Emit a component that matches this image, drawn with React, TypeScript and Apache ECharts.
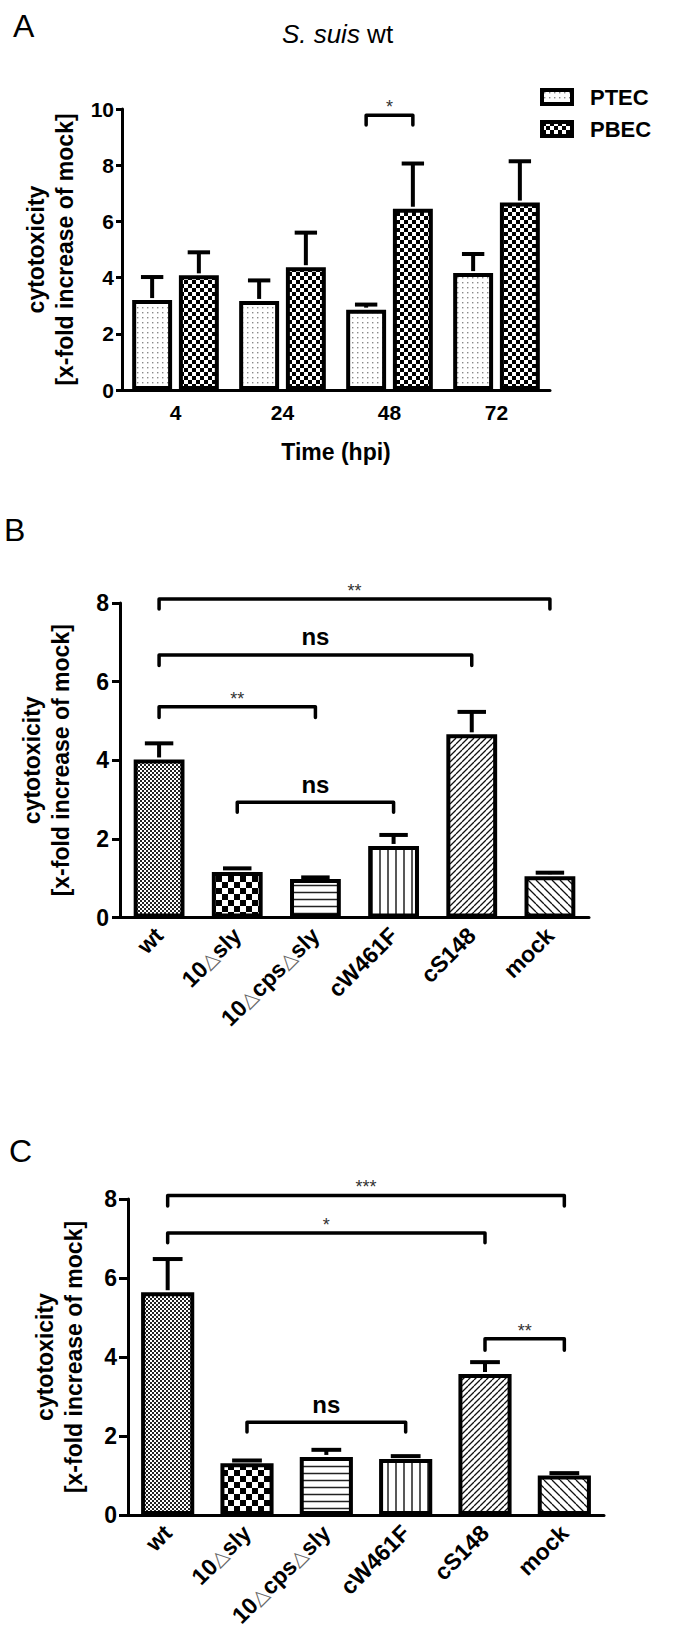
import React, { useEffect, useRef } from 'react';
import * as echarts from 'echarts';

// ---------- data ----------
const hoursA = ['4', '24', '48', '72'];
const seriesNamesA = ['PTEC', 'PBEC'];
const ptecMean = [3.2, 3.17, 2.86, 4.16];
const ptecSem = [0.82, 0.73, 0.18, 0.68];
const pbecMean = [4.08, 4.37, 6.45, 6.67];
const pbecSem = [0.82, 1.23, 1.61, 1.47];
// [fromCategory, fromBar, toCategory, toBar, bracketY, legBottomY]
const sigA = [[2, 0, 2, 1, 9.78, 9.43]];
const sigLabelsA = ['*'];

const strains = ['wt', '10△sly', '10△cps△sly', 'cW461F', 'cS148', 'mock'];
const meanB = [4.02, 1.16, 0.98, 1.82, 4.66, 1.05];
const semB = [0.41, 0.09, 0.04, 0.28, 0.57, 0.09];
const sigB = [
  [0, 0, 5, 0, 8.1, 7.85],
  [0, 0, 4, 0, 6.68, 6.41],
  [0, 0, 2, 0, 5.36, 5.09],
  [1, 0, 3, 0, 2.93, 2.68],
];
const sigLabelsB = ['**', 'ns', '**', 'ns'];

const meanC = [5.64, 1.31, 1.47, 1.42, 3.57, 1.0];
const semC = [0.84, 0.07, 0.18, 0.07, 0.3, 0.06];
const sigC = [
  [0, 0, 5, 0, 8.09, 7.82],
  [0, 0, 4, 0, 7.14, 6.89],
  [4, 0, 5, 0, 4.46, 4.17],
  [1, 0, 3, 0, 2.35, 2.1],
];
const sigLabelsC = ['***', '*', '**', 'ns'];

const yMaxA = 10;
const yMaxBC = 8;
const yInterval = 2;

const yName = 'cytotoxicity\n[x-fold increase of mock]';

// ---------- styling helpers ----------
const FONT = '"Liberation Sans", Arial, Helvetica, sans-serif';

function makeTile(w: number, h: number, draw: (ctx: CanvasRenderingContext2D) => void) {
  const c = document.createElement('canvas');
  c.width = w;
  c.height = h;
  const ctx = c.getContext('2d') as CanvasRenderingContext2D;
  ctx.fillStyle = '#fff';
  ctx.fillRect(0, 0, w, h);
  draw(ctx);
  return { image: c.toDataURL(), repeat: 'repeat', imageWidth: w, imageHeight: h } as any;
}
const dots = () =>
  makeTile(5, 5, (ctx) => {
    ctx.fillStyle = '#8a8a8a';
    ctx.fillRect(2, 2, 1.4, 1.4);
  });
const checker = (cell: number, color: string) =>
  makeTile(cell * 2, cell * 2, (ctx) => {
    ctx.fillStyle = color;
    ctx.fillRect(0, 0, cell, cell);
    ctx.fillRect(cell, cell, cell, cell);
  });
const hLines = (p: number) =>
  makeTile(p, p, (ctx) => {
    ctx.fillStyle = '#222';
    ctx.fillRect(0, p / 2 - 0.75, p, 1.5);
  });
const vLines = (p: number) =>
  makeTile(p, p, (ctx) => {
    ctx.fillStyle = '#222';
    ctx.fillRect(p / 2 - 0.75, 0, 1.5, p);
  });
const diag = (p: number, up: boolean) =>
  makeTile(p, p, (ctx) => {
    ctx.strokeStyle = '#111';
    ctx.lineWidth = 1.3;
    ctx.beginPath();
    for (const o of [-p, 0, p]) {
      if (up) {
        ctx.moveTo(o, p);
        ctx.lineTo(o + p, 0);
      } else {
        ctx.moveTo(o, 0);
        ctx.lineTo(o + p, p);
      }
    }
    ctx.stroke();
  });

function barLayout(band: number, n: number, gapCat: number, gapBar: number, k: number) {
  const bw = (band * (1 - gapCat)) / (n + (n - 1) * gapBar);
  const total = n * bw + (n - 1) * gapBar * bw;
  return { off: -total / 2 + bw / 2 + k * bw * (1 + gapBar), bw };
}

function errRender(n: number, k: number, gapCat: number, gapBar: number) {
  return (params: any, api: any) => {
    const cat = api.value(0);
    const m = api.value(1);
    const e = api.value(2);
    const base = api.coord([cat, m]);
    const top = api.coord([cat, m + e]);
    const band = api.size([1, 0])[0];
    const { off, bw } = barLayout(band, n, gapCat, gapBar, k);
    const x = base[0] + off;
    const cap = bw * 0.56;
    const st = { stroke: '#000', lineWidth: 4, fill: 'none' };
    return {
      type: 'group',
      children: [
        { type: 'line', shape: { x1: x, y1: base[1] - 2, x2: x, y2: top[1] }, style: st },
        { type: 'line', shape: { x1: x - cap / 2, y1: top[1], x2: x + cap / 2, y2: top[1] }, style: st },
      ],
    };
  };
}

function bracketRender(labels: string[], n: number, gapCat: number, gapBar: number) {
  return (params: any, api: any) => {
    const band = api.size([1, 0])[0];
    const p1 = api.coord([api.value(0), api.value(4)]);
    const p2 = api.coord([api.value(2), api.value(4)]);
    const leg = api.coord([api.value(0), api.value(5)])[1];
    const x1 = p1[0] + barLayout(band, n, gapCat, gapBar, api.value(1)).off;
    const x2 = p2[0] + barLayout(band, n, gapCat, gapBar, api.value(3)).off;
    const y = p1[1];
    const label = labels[params.dataIndex];
    const isNs = label === 'ns';
    return {
      type: 'group',
      children: [
        {
          type: 'polyline',
          shape: { points: [[x1, leg], [x1, y], [x2, y], [x2, leg]] },
          style: { stroke: '#000', lineWidth: 3.5, fill: 'none', lineJoin: 'round', lineCap: 'round' },
        },
        {
          type: 'text',
          x: (x1 + x2) / 2,
          y: y - (isNs ? 18 : 8),
          style: {
            text: label,
            fill: isNs ? '#000' : '#333',
            fontSize: isNs ? 24 : 18,
            fontWeight: isNs ? 'bold' : 'normal',
            fontFamily: FONT,
            align: 'center',
            verticalAlign: 'middle',
            textAlign: 'center',
            textVerticalAlign: 'middle',
          },
        },
      ],
    };
  };
}

const axisLineStyle = { color: '#000', width: 3 };

function yAxisDef(grid: number, max: number, nameGap: number, fontSize: number, margin: number, tickLen: number) {
  return {
    gridIndex: grid,
    type: 'value',
    min: 0,
    max,
    interval: yInterval,
    splitLine: { show: false },
    axisLine: { show: true, lineStyle: axisLineStyle },
    axisTick: { show: true, length: tickLen, lineStyle: axisLineStyle },
    axisLabel: { color: '#000', fontSize, fontWeight: 'bold', fontFamily: FONT, margin },
    name: yName,
    nameLocation: 'middle',
    nameRotate: 90,
    nameGap,
    nameTextStyle: { color: '#000', fontSize: 23, fontWeight: 'bold', fontFamily: FONT, lineHeight: 29 },
  };
}

function strainAxis(grid: number) {
  return {
    gridIndex: grid,
    type: 'category',
    data: strains,
    axisLine: { lineStyle: axisLineStyle },
    axisTick: { alignWithLabel: true, length: 9, lineStyle: axisLineStyle },
    axisLabel: {
      color: '#000',
      fontSize: 23,
      fontWeight: 'bold',
      fontFamily: FONT,
      margin: 14,
      rotate: 45,
      interval: 0,
      formatter: (v: string) => v.split('△').join('{d|△}'),
      rich: {
        d: { fontSize: 20, fontWeight: 'normal', color: '#666', fontFamily: '"DejaVu Sans", sans-serif' },
      },
    },
  };
}

export default function App() {
  const ref = useRef<HTMLDivElement>(null);
  useEffect(() => {
    document.body.style.margin = '0';
    if (!ref.current) return;
    const chart = echarts.init(ref.current, undefined, { renderer: 'svg' });

    const ptecPat = dots();
    const pbecPat = checker(4, '#000');
    const patBC = [checker(2, '#222'), checker(6, '#000'), hLines(7), vLines(8), diag(6, true), diag(8, false)];

    const gapA = 0.19;
    const barGapA = 0.17;
    const gapB = 0.35;
    const gapC = 0.33;

    const option: any = {
      animation: false,
      backgroundColor: '#fff',
      title: {
        text: '{i|S. suis} wt',
        left: 'center',
        top: 21,
        padding: 0,
        textStyle: {
          fontSize: 26,
          fontWeight: 'normal',
          color: '#000',
          fontFamily: FONT,
          rich: { i: { fontSize: 26, fontStyle: 'italic', color: '#000', fontFamily: FONT } },
        },
      },
      graphic: [
        { type: 'text', x: 13, y: 26, style: { text: 'A', fill: '#000', font: `32px ${FONT}`, textVerticalAlign: 'middle' } },
        { type: 'text', x: 4, y: 530, style: { text: 'B', fill: '#000', font: `32px ${FONT}`, textVerticalAlign: 'middle' } },
        { type: 'text', x: 9, y: 1151, style: { text: 'C', fill: '#000', font: `32px ${FONT}`, textVerticalAlign: 'middle' } },
      ],
      legend: {
        data: seriesNamesA,
        orient: 'vertical',
        left: 540,
        top: 86,
        padding: 0,
        itemWidth: 30,
        itemHeight: 14,
        itemGap: 10,
        icon: 'rect',
        selectedMode: false,
        itemStyle: { borderColor: '#000', borderWidth: 4 },
        formatter: '{t|{name}}',
        textStyle: {
          fontSize: 22,
          fontWeight: 'bold',
          color: '#000',
          fontFamily: FONT,
          rich: { t: { fontSize: 22, fontWeight: 'bold', color: '#000', fontFamily: FONT, padding: [0, 0, 0, 13] } },
        },
      },
      grid: [
        { left: 122, top: 109, width: 428, height: 281 },
        { left: 120, top: 603, width: 469, height: 314.5 },
        { left: 128, top: 1199, width: 476, height: 316 },
      ],
      xAxis: [
        {
          gridIndex: 0,
          type: 'category',
          data: hoursA,
          axisLine: { lineStyle: axisLineStyle },
          axisTick: { alignWithLabel: true, length: 8, lineStyle: axisLineStyle },
          axisLabel: { color: '#000', fontSize: 21, fontWeight: 'bold', fontFamily: FONT, margin: 12 },
          name: 'Time (hpi)',
          nameLocation: 'middle',
          nameGap: 50,
          nameTextStyle: { color: '#000', fontSize: 23, fontWeight: 'bold', fontFamily: FONT },
        },
        strainAxis(1),
        strainAxis(2),
      ],
      yAxis: [
        yAxisDef(0, yMaxA, 33.5, 21, 8, 6),
        yAxisDef(1, yMaxBC, 44.5, 23, 11, 8),
        yAxisDef(2, yMaxBC, 39.5, 23, 11, 9),
      ],
      series: [
        {
          name: 'PTEC', type: 'bar', xAxisIndex: 0, yAxisIndex: 0, data: ptecMean,
          barCategoryGap: `${gapA * 100}%`, barGap: `${barGapA * 100}%`, z: 2,
          itemStyle: { color: ptecPat, borderColor: '#000', borderWidth: 4 },
        },
        {
          name: 'PBEC', type: 'bar', xAxisIndex: 0, yAxisIndex: 0, data: pbecMean,
          barCategoryGap: `${gapA * 100}%`, barGap: `${barGapA * 100}%`, z: 2,
          itemStyle: { color: pbecPat, borderColor: '#000', borderWidth: 4 },
        },
        {
          name: 'errPTEC', type: 'custom', xAxisIndex: 0, yAxisIndex: 0, z: 3, clip: false,
          encode: { x: 0, y: 1 },
          data: ptecMean.map((m, i) => [i, m, ptecSem[i]]),
          renderItem: errRender(2, 0, gapA, barGapA),
        },
        {
          name: 'errPBEC', type: 'custom', xAxisIndex: 0, yAxisIndex: 0, z: 3, clip: false,
          encode: { x: 0, y: 1 },
          data: pbecMean.map((m, i) => [i, m, pbecSem[i]]),
          renderItem: errRender(2, 1, gapA, barGapA),
        },
        {
          name: 'sigA', type: 'custom', xAxisIndex: 0, yAxisIndex: 0, z: 3, clip: false,
          encode: { x: 0, y: 4 },
          data: sigA,
          renderItem: bracketRender(sigLabelsA, 2, gapA, barGapA),
        },
        {
          name: 'B', type: 'bar', xAxisIndex: 1, yAxisIndex: 1, z: 2,
          barCategoryGap: `${gapB * 100}%`,
          data: meanB.map((v, i) => ({ value: v, itemStyle: { color: patBC[i] } })),
          itemStyle: { borderColor: '#000', borderWidth: 4 },
        },
        {
          name: 'errB', type: 'custom', xAxisIndex: 1, yAxisIndex: 1, z: 3, clip: false,
          encode: { x: 0, y: 1 },
          data: meanB.map((m, i) => [i, m, semB[i]]),
          renderItem: errRender(1, 0, gapB, 0),
        },
        {
          name: 'sigB', type: 'custom', xAxisIndex: 1, yAxisIndex: 1, z: 3, clip: false,
          encode: { x: 0, y: 4 },
          data: sigB,
          renderItem: bracketRender(sigLabelsB, 1, gapB, 0),
        },
        {
          name: 'C', type: 'bar', xAxisIndex: 2, yAxisIndex: 2, z: 2,
          barCategoryGap: `${gapC * 100}%`,
          data: meanC.map((v, i) => ({ value: v, itemStyle: { color: patBC[i] } })),
          itemStyle: { borderColor: '#000', borderWidth: 4 },
        },
        {
          name: 'errC', type: 'custom', xAxisIndex: 2, yAxisIndex: 2, z: 3, clip: false,
          encode: { x: 0, y: 1 },
          data: meanC.map((m, i) => [i, m, semC[i]]),
          renderItem: errRender(1, 0, gapC, 0),
        },
        {
          name: 'sigC', type: 'custom', xAxisIndex: 2, yAxisIndex: 2, z: 3, clip: false,
          encode: { x: 0, y: 4 },
          data: sigC,
          renderItem: bracketRender(sigLabelsC, 1, gapC, 0),
        },
      ],
    };
    chart.setOption(option);
    return () => chart.dispose();
  }, []);
  return <div ref={ref} style={{ width: 675, height: 1645, background: '#fff' }} />;
}
